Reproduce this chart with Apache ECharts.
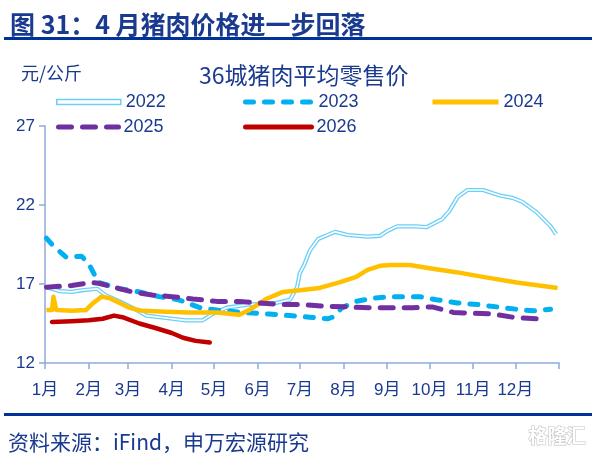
<!DOCTYPE html>
<html>
<head>
<meta charset="utf-8">
<script src="https://cdn.jsdelivr.net/npm/echarts@6/dist/echarts.min.js"></script>
<style>
  html, body { margin: 0; padding: 0; background: #fff; }
  #main { width: 599px; height: 453px; }
</style>
</head>
<body>
<div id="main"></div>
<script>
// 月份起点（一年中的第几天）及标签
var monthStarts = [0, 31, 59, 90, 120, 151, 181, 212, 243, 273, 304, 334, 365];
var monthLabels = ['1月', '2月', '3月', '4月', '5月', '6月', '7月', '8月', '9月', '10月', '11月', '12月'];
var yTicks = [12, 17, 22, 27];

// 各年份：日期（第几天）与价格（元/公斤）
var days2022 = [1, 10, 19, 26, 37, 43, 53, 62, 72, 86, 100, 112, 119, 129, 145, 164, 174, 179, 181, 184, 188, 194, 206, 215, 229, 238, 243, 250, 263, 271, 282, 287, 293, 300, 311, 323, 332, 339, 349, 359, 363];
var price2022 = [16.8, 16.55, 16.5, 16.6, 16.7, 16.3, 15.9, 15.5, 15.0, 14.85, 14.7, 14.7, 15.1, 15.5, 15.7, 15.8, 16.0, 16.8, 17.7, 18.2, 19.1, 19.85, 20.3, 20.1, 20.0, 20.05, 20.35, 20.65, 20.65, 20.6, 21.1, 21.6, 22.5, 22.95, 22.95, 22.6, 22.45, 22.2, 21.55, 20.65, 20.15];

var days2023 = [1, 6, 15, 26, 31, 35, 38, 53, 67, 81, 95, 110, 122, 140, 159, 174, 188, 201, 204, 211, 221, 233, 245, 266, 278, 293, 307, 321, 335, 347, 359];
var price2023 = [19.9, 19.4, 18.7, 18.75, 18.3, 17.6, 17.1, 16.7, 16.5, 16.2, 16.0, 15.5, 15.35, 15.2, 15.1, 15.0, 14.9, 14.8, 14.9, 15.5, 15.9, 16.1, 16.2, 16.2, 16.0, 15.8, 15.7, 15.55, 15.4, 15.3, 15.4];

var days2024 = [1, 5, 6, 8, 19, 29, 33, 40, 46, 53, 60, 69, 86, 102, 122, 138, 145, 157, 169, 181, 195, 209, 221, 229, 238, 246, 259, 273, 292, 311, 335, 364];
var price2024 = [15.35, 15.35, 16.2, 15.35, 15.3, 15.35, 15.7, 16.2, 16.1, 15.8, 15.5, 15.3, 15.25, 15.2, 15.2, 15.05, 15.35, 16.05, 16.5, 16.6, 16.75, 17.1, 17.45, 17.9, 18.15, 18.2, 18.2, 18.0, 17.75, 17.45, 17.1, 16.75];

var days2025 = [1, 19, 33, 38, 51, 62, 76, 90, 105, 122, 138, 152, 169, 183, 197, 214, 231, 245, 261, 275, 290, 304, 318, 332, 349, 355];
var price2025 = [16.8, 16.9, 17.1, 17.05, 16.75, 16.5, 16.3, 16.2, 16.05, 15.9, 15.9, 15.8, 15.7, 15.7, 15.6, 15.55, 15.5, 15.5, 15.5, 15.55, 15.2, 15.15, 15.1, 14.9, 14.8, 14.8];

var days2026 = [5, 19, 31, 41, 49, 55, 67, 79, 90, 98, 107, 117];
var price2026 = [14.6, 14.65, 14.7, 14.8, 15.0, 14.9, 14.5, 14.2, 13.9, 13.6, 13.4, 13.3];

function zip(d, v) {
    var out = [];
    for (var i = 0; i < d.length; i++) out.push([d[i], v[i]]);
    return out;
}

var navy = '#1a3a8f';
var axisColor = '#8eaad8';
var fontFam = "'Liberation Sans', 'Noto Sans CJK SC', sans-serif";
var cjkFam = "'Noto Sans CJK SC', 'Liberation Sans', sans-serif";

var myChart = echarts.init(document.getElementById('main'));

var legendBase = {
    itemWidth: 64,
    itemHeight: 14,
    textStyle: { color: navy, fontSize: 18, fontFamily: fontFam },
    itemStyle: { color: 'rgba(0,0,0,0)', borderWidth: 0, opacity: 0 },
    lineStyle: { width: 5 },
    selectedMode: false
};

option = {
    animation: false,
    backgroundColor: '#fff',
    title: [{
        text: '图 31：4 月猪肉价格进一步回落',
        left: 5, top: 7,
        textStyle: { color: navy, fontSize: 25, fontWeight: 'bold', fontFamily: cjkFam }
    }, {
        text: '36城猪肉平均零售价',
        left: 194, top: 59,
        textStyle: { color: navy, fontSize: 23, fontWeight: 'normal', fontFamily: cjkFam }
    }, {
        text: '元/公斤',
        left: 16, top: 59,
        textStyle: { color: navy, fontSize: 18, fontWeight: 'normal', fontFamily: cjkFam }
    }, {
        text: '资料来源：iFind，申万宏源研究',
        left: 3, top: 427,
        textStyle: { color: navy, fontSize: 21, fontWeight: 'normal', fontFamily: cjkFam }
    }],
    graphic: [{
        type: 'rect',
        shape: { x: 4, y: 37, width: 588, height: 3 },
        style: { fill: '#003399' }
    }, {
        type: 'rect',
        shape: { x: 4, y: 413, width: 588, height: 3 },
        style: { fill: '#003399' }
    }, {
        type: 'text',
        left: 528, top: 426,
        style: {
            text: '格隆汇', fill: '#fff', stroke: '#c4c4c4', lineWidth: 1.2,
            font: 'bold 19px ' + cjkFam
        }
    }],
    legend: [
        Object.assign({}, legendBase, {
            data: [{ name: '2022', icon: 'rect' }], left: 51, top: 88,
            itemHeight: 5,
            itemStyle: { color: '#fff', borderColor: '#6dcff6', borderWidth: 1.5 }
        }),
        Object.assign({}, legendBase, { data: ['2023'], left: 238, top: 88, itemWidth: 68 }),
        Object.assign({}, legendBase, { data: ['2024'], left: 425, top: 88, itemWidth: 66 }),
        Object.assign({}, legendBase, { data: ['2025'], left: 51, top: 113, itemWidth: 60 }),
        Object.assign({}, legendBase, { data: ['2026'], left: 238, top: 113, itemWidth: 66 })
    ],
    grid: { left: 45, right: 40, top: 126, bottom: 90 },
    xAxis: {
        type: 'value',
        min: 0,
        max: 365,
        axisLine: { lineStyle: { color: axisColor, width: 1.5 } },
        axisTick: { show: true, length: 6, customValues: monthStarts, lineStyle: { color: axisColor, width: 1.5 } },
        axisLabel: {
            customValues: monthStarts.slice(0, 12),
            formatter: function (v) {
                return monthLabels[monthStarts.indexOf(v)] || '';
            },
            margin: 19,
            color: navy, fontSize: 17, fontFamily: fontFam
        },
        splitLine: { show: false }
    },
    yAxis: {
        type: 'value',
        min: yTicks[0],
        max: yTicks[yTicks.length - 1],
        interval: 5,
        axisLine: { show: true, lineStyle: { color: axisColor, width: 1.5 } },
        axisTick: { show: true, length: 6, lineStyle: { color: axisColor, width: 1.5 } },
        axisLabel: { color: navy, fontSize: 17, fontFamily: fontFam, margin: 10 },
        splitLine: { show: false }
    },
    series: [{
        name: '2022',
        type: 'line',
        symbol: 'none',
        data: zip(days2022, price2022),
        lineStyle: { color: '#6dcff6', width: 4.2, join: 'round' },
        itemStyle: { color: '#6dcff6' }
    }, {
        name: '2022w',
        type: 'line',
        symbol: 'none',
        silent: true,
        data: zip(days2022, price2022),
        lineStyle: { color: '#fff', width: 1.6, join: 'round' }
    }, {
        name: '2023',
        type: 'line',
        symbol: 'none',
        data: zip(days2023, price2023),
        lineStyle: { color: '#00b0f0', width: 5, type: [8, 11], cap: 'round' },
        itemStyle: { color: '#00b0f0' }
    }, {
        name: '2024',
        type: 'line',
        symbol: 'none',
        data: zip(days2024, price2024),
        lineStyle: { color: '#ffc000', width: 4.5, join: 'round' },
        itemStyle: { color: '#ffc000' }
    }, {
        name: '2025',
        type: 'line',
        symbol: 'none',
        data: zip(days2025, price2025),
        lineStyle: { color: '#7030a0', width: 5, type: [13, 11], cap: 'round' },
        itemStyle: { color: '#7030a0' }
    }, {
        name: '2026',
        type: 'line',
        symbol: 'none',
        data: zip(days2026, price2026),
        lineStyle: { color: '#c00000', width: 4.5, join: 'round', cap: 'round' },
        itemStyle: { color: '#c00000' }
    }]
};

myChart.setOption(option);
</script>
</body>
</html>
